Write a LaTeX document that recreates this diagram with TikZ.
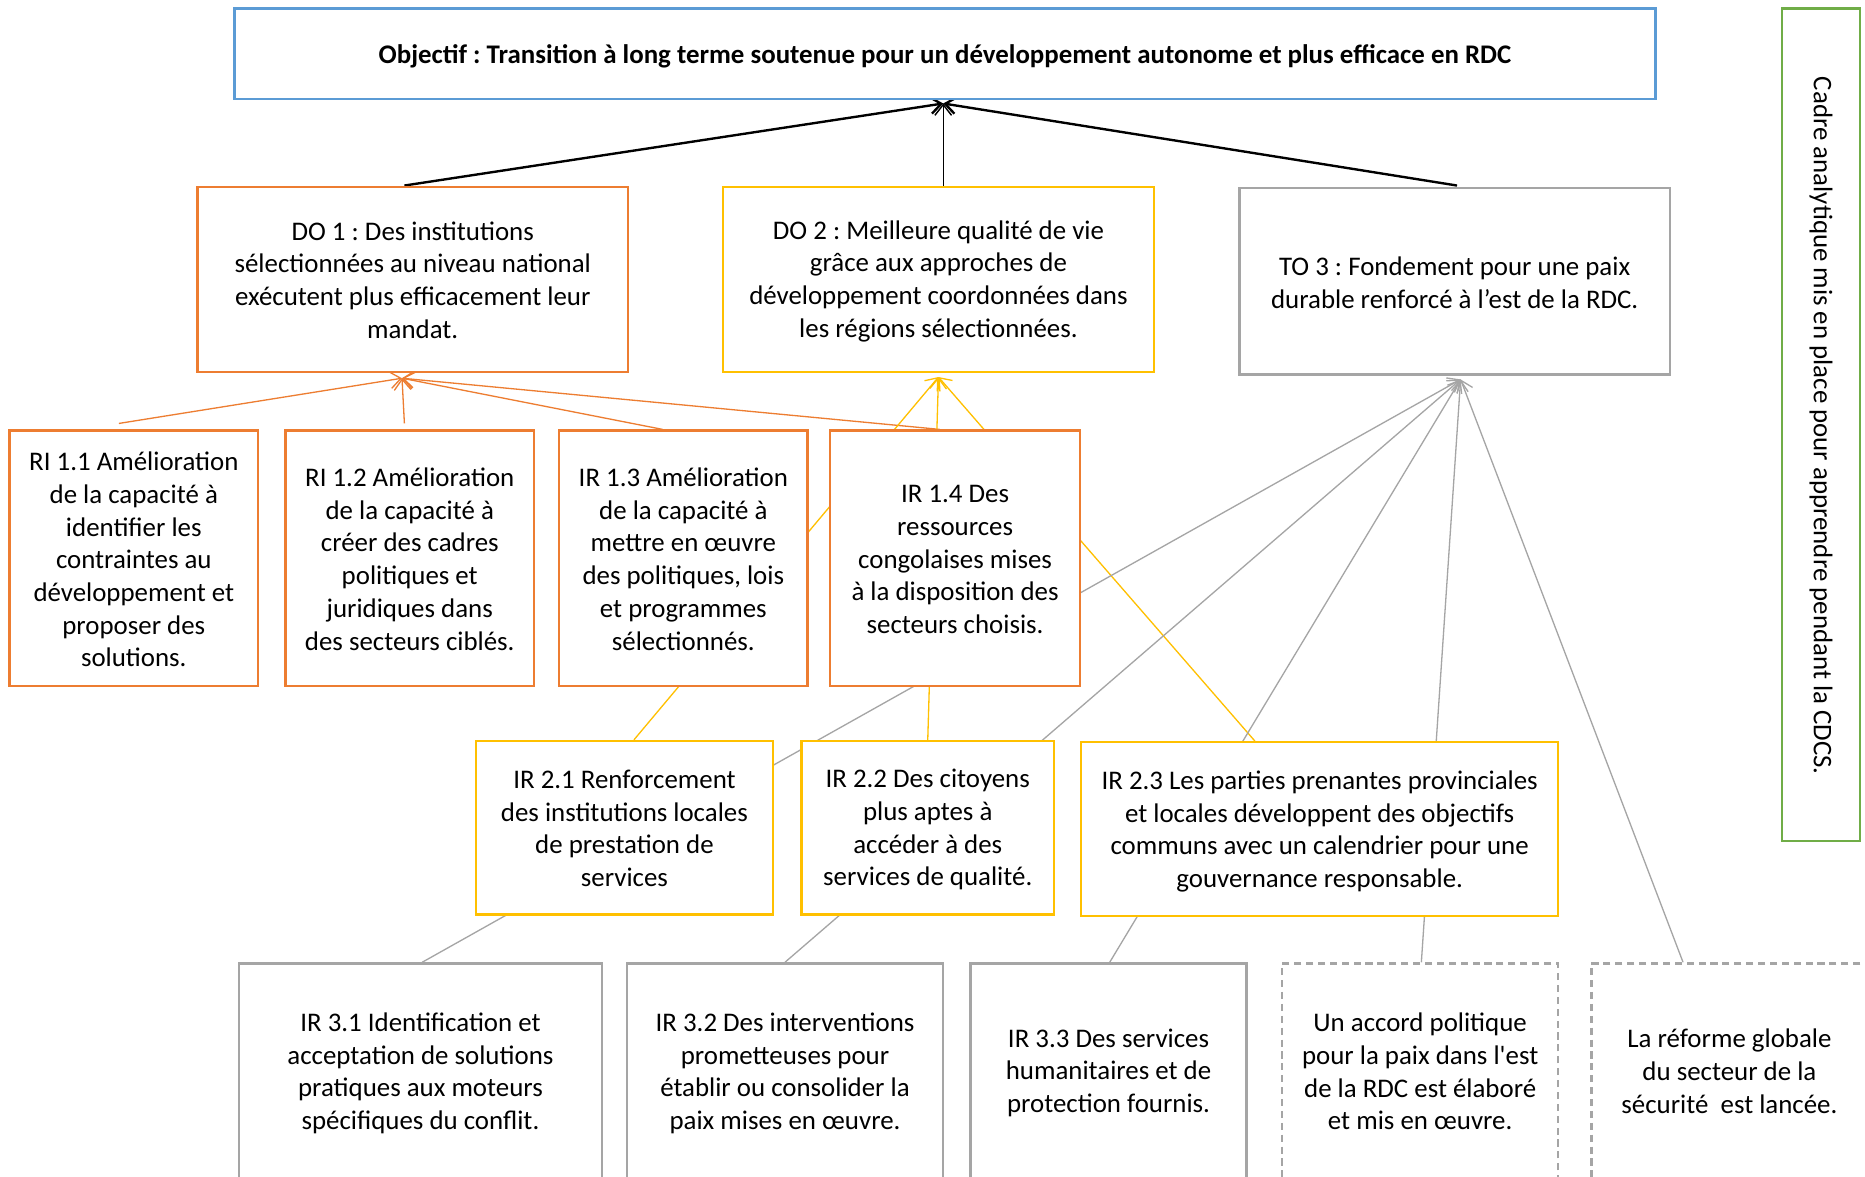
\documentclass[tikz,border=0pt]{standalone}
\usepackage{fontspec}
\setmainfont{Carlito}[Ligatures=TeXOff]
\frenchspacing
\usetikzlibrary{fit,calc,arrows.meta,backgrounds}
\definecolor{cblue}{HTML}{5B9BD5}
\definecolor{corange}{HTML}{ED7D31}
\definecolor{cgold}{HTML}{FFC000}
\definecolor{cgray}{HTML}{A5A5A5}
\definecolor{cgreen}{HTML}{70AD47}
\begin{document}
\begin{tikzpicture}[x=0.5pt,y=-0.5pt,
  box/.style={draw,fill=white,inner sep=0pt,line width=1pt},
  txt/.style={inner sep=0pt,align=center,font=\fontsize{11.3}{13.75}\selectfont},
  bluebox/.style={box,draw=cblue},
  obox/.style={box,draw=corange},
  gbox/.style={box,draw=cgold},
  graybox/.style={box,draw=cgray},
  dashbox/.style={box,draw=cgray,dash pattern=on 3pt off 2pt},
  greenbox/.style={box,draw=cgreen},
  tip/.style={-{Straight Barb[length=4.5pt,width=7pt]}},
  blackconn/.style={tip,line width=1pt,black},
  blackthin/.style={tip,line width=0.6pt,black},
  oconn/.style={tip,line width=0.55pt,corange},
  gconn/.style={tip,line width=0.55pt,cgold},
  grayconn/.style={tip,line width=0.55pt,cgray}
]
\useasboundingbox (0,0) rectangle (1568,989);

% boxes
\node[bluebox,fit={(197,7)(1392,83)}] (top) {};
\node[greenbox,fit={(1498,7)(1564,707)}] (cadre) {};
\node[obox,fit={(166,157)(528,313)}] (do1) {};
\node[gbox,fit={(608,157)(970,313)}] (do2) {};
\node[graybox,fit={(1042,158)(1404,315)}] (to3) {};
\node[obox,fit={(8,362)(217,577)}] (ri11) {};
\node[obox,fit={(240,362)(449,577)}] (ri12) {};
\node[obox,fit={(470,362)(679,577)}] (ir13) {};
\node[obox,fit={(698,362)(908,577)}] (ir14) {};
\node[gbox,fit={(400,623)(650,769)}] (ir21) {};
\node[gbox,fit={(674,623)(886,769)}] (ir22) {};
\node[gbox,fit={(909,624)(1310,770)}] (ir23) {};
\node[graybox,fit={(201,810)(506,992)}] (ir31) {};
\node[graybox,fit={(527,810)(793,992)}] (ir32) {};
\node[graybox,fit={(816,810)(1048,992)}] (ir33) {};
\node[dashbox,fit={(1078,810)(1310,992)}] (accord) {};
\node[dashbox,fit={(1338,810)(1570,992)}] (reforme) {};

% texts
\node[txt] (topt) at ($(top.center)+(0,2)$) {\textbf{Objectif : Transition à long terme soutenue pour un développement autonome et plus efficace en RDC}};
\node[txt,rotate=-90] (cadret) at ($(cadre.center)+(0,1)$) {Cadre analytique mis en place pour apprendre pendant la CDCS.};
\node[txt] (do1t) at ($(do1.center)+(0,0.5)$) {DO 1 : Des institutions\\sélectionnées au niveau national\\exécutent plus efficacement leur\\mandat.};
\node[txt] (do2t) at ($(do2.center)+(0,1.5)$) {DO 2 : Meilleure qualité de vie\\grâce aux approches de\\développement coordonnées dans\\les régions sélectionnées.};
\node[txt] (to3t) at ($(to3.center)+(0,1.5)$) {TO 3 : Fondement pour une paix\\durable renforcé à l’est de la RDC.};
\node[txt] (ri11t) at ($(ri11.center)+(0,1)$) {RI 1.1 Amélioration\\de la capacité à\\identifier les\\contraintes au\\développement et\\proposer des\\solutions.};
\node[txt] (ri12t) at ($(ri12.center)+(0,0.5)$) {RI 1.2 Amélioration\\de la capacité à\\créer des cadres\\politiques et\\juridiques dans\\des secteurs ciblés.};
\node[txt] (ir13t) at ($(ir13.center)+(0,0.5)$) {IR 1.3 Amélioration\\de la capacité à\\mettre en œuvre\\des politiques, lois\\et programmes\\sélectionnés.};
\node[txt] (ir14t) at ($(ir14.center)+(0,1)$) {IR 1.4 Des\\ressources\\congolaises mises\\à la disposition des\\secteurs choisis.};
\node[txt] (ir21t) at ($(ir21.center)+(0,0.5)$) {IR 2.1 Renforcement\\des institutions locales\\de prestation de\\services};
\node[txt] (ir22t) at ($(ir22.center)+(0,1.5)$) {IR 2.2 Des citoyens\\plus aptes à\\accéder à des\\services de qualité.};
\node[txt] (ir23t) at ($(ir23.center)+(0,2)$) {IR 2.3 Les parties prenantes provinciales\\et locales développent des objectifs\\communs avec un calendrier pour une\\gouvernance responsable.};
\node[txt] (ir31t) at ($(ir31.center)+(0,1.5)$) {IR 3.1 Identification et\\acceptation de solutions\\pratiques aux moteurs\\spécifiques du conflit.};
\node[txt] (ir32t) at ($(ir32.center)+(0,1.5)$) {IR 3.2 Des interventions\\prometteuses pour\\établir ou consolider la\\paix mises en œuvre.};
\node[txt] (ir33t) at ($(ir33.center)+(0,1)$) {IR 3.3 Des services\\humanitaires et de\\protection fournis.};
\node[txt] (accordt) at ($(accord.center)+(0,0)$) {Un accord politique\\pour la paix dans l'est\\de la RDC est élaboré\\et mis en œuvre.};
\node[txt] (reformet) at ($(reforme.center)+(0,-0.5)$) {La réforme globale\\du secteur de la\\sécurité~ est lancée.};

% connectors behind the boxes
\begin{pgfonlayer}{background}
\fill[white] (0,0) rectangle (1568,989);
\coordinate (ttop) at ($(top.south)+(-1.5,3)$);
\coordinate (tdo1) at ($(do1.south)+(-9,4)$);
\coordinate (tdo2) at ($(do2.south)+(0,3)$);
\coordinate (tto3) at ($(to3.south)+(5,3)$);

\draw[blackconn] ($(do1.north)+(-7,0)$) -- (ttop);
\draw[blackthin] ($(do2.north)+(4,0)$) -- (ttop);
\draw[blackconn] ($(to3.north)+(2,-1)$) -- (ttop);

\draw[oconn] ($(ri11.north)+(-12.5,-5)$) -- (tdo1);
\draw[oconn] ($(ri12.north)+(-4.5,-5)$) -- (tdo1);
\draw[oconn] ($(ir13.north)+(-17.5,0)$) -- (tdo1);
\draw[oconn] ($(ir14.north)+(-13,0)$) -- (tdo1);

\draw[gconn] ($(ir21.north)+(8,0)$) -- (tdo2);
\draw[gconn] (ir22.north) -- (tdo2);
\draw[gconn] ($(ir23.north)+(-54.5,0)$) -- (tdo2);

\draw[grayconn] ($(ir31.north)+(1.5,0)$) -- (tto3);
\draw[grayconn] (ir32.north) -- (tto3);
\draw[grayconn] ($(ir33.north)+(1,0)$) -- (tto3);
\draw[grayconn] ($(accord.north)+(1,0)$) -- (tto3);
\draw[grayconn] ($(reforme.north)+(-39,0)$) -- (tto3);
\end{pgfonlayer}
\end{tikzpicture}
\end{document}
